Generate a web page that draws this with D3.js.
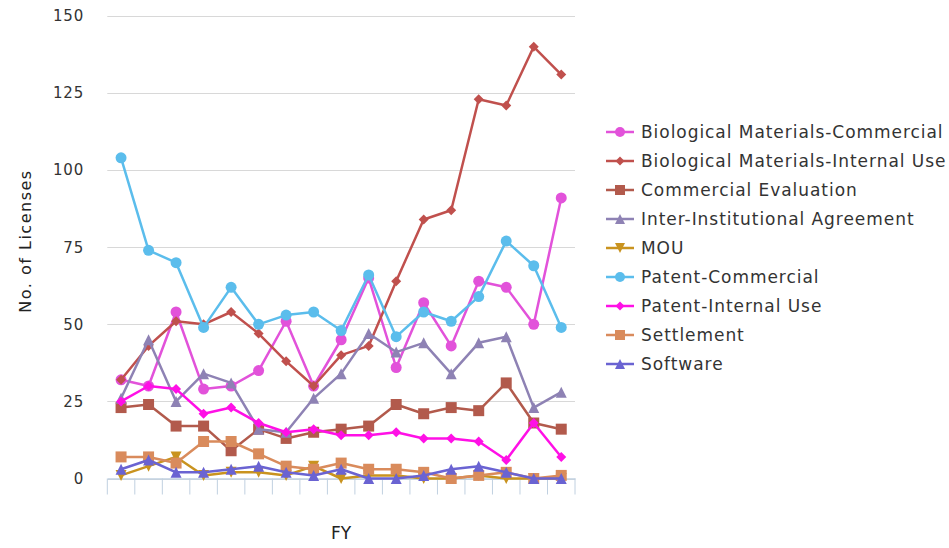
<!DOCTYPE html>
<html>
<head>
<meta charset="utf-8">
<script src="https://cdn.jsdelivr.net/npm/d3@7/dist/d3.min.js"></script>
<style>
  html, body { margin: 0; padding: 0; background: #fff; }
  svg { display: block; font-family: "DejaVu Sans", "Lucida Grande", sans-serif; }
</style>
</head>
<body>
<svg id="chart" width="949" height="548"></svg>
<script>
// ---------------- data ----------------
const categories = ["1","2","3","4","5","6","7","8","9","10","11","12","13","14","15","16","17"];
const yTicks = [0, 25, 50, 75, 100, 125, 150];

const seriesNames = [
  "Biological Materials-Commercial",
  "Biological Materials-Internal Use",
  "Commercial Evaluation",
  "Inter-Institutional Agreement",
  "MOU",
  "Patent-Commercial",
  "Patent-Internal Use",
  "Settlement",
  "Software"
];
const bioCommercial   = [32, 30, 54, 29, 30, 35, 51, 30, 45, 65, 36, 57, 43, 64, 62, 50, 91];
const bioInternal     = [32, 43, 51, 50, 54, 47, 38, 30, 40, 43, 64, 84, 87, 123, 121, 140, 131];
const commercialEval  = [23, 24, 17, 17, 9, 16, 13, 15, 16, 17, 24, 21, 23, 22, 31, 18, 16];
const interInst       = [26, 45, 25, 34, 31, 16, 15, 26, 34, 47, 41, 44, 34, 44, 46, 23, 28];
const mou             = [1, 4, 7, 1, 2, 2, 1, 4, 0, 1, 1, 0, 0, 1, 0, 0, 0];
const patentCommercial= [104, 74, 70, 49, 62, 50, 53, 54, 48, 66, 46, 54, 51, 59, 77, 69, 49];
const patentInternal  = [25, 30, 29, 21, 23, 18, 15, 16, 14, 14, 15, 13, 13, 12, 6, 18, 7];
const settlement      = [7, 7, 5, 12, 12, 8, 4, 3, 5, 3, 3, 2, 0, 1, 2, 0, 1];
const software        = [3, 6, 2, 2, 3, 4, 2, 1, 3, 0, 0, 1, 3, 4, 2, 0, 0];

const seriesValues = [bioCommercial, bioInternal, commercialEval, interInst, mou,
                      patentCommercial, patentInternal, settlement, software];
const seriesColors = ["#E252DA", "#C0504D", "#B25A4C", "#8E82B4", "#C9931F",
                      "#5BBDEC", "#FF10E6", "#D98B5C", "#6A63D2"];
const seriesSymbols = ["circle", "diamond", "square", "triangle", "triangle-down",
                       "circle", "diamond", "square", "triangle"];

// ---------------- layout ----------------
const svg = d3.select("#chart");
const plot = { left: 107.3, right: 575, top: 16, bottom: 478.5 };

const x = d3.scaleBand().domain(categories).range([plot.left, plot.right]).paddingInner(0).paddingOuter(0);
const y = d3.scaleLinear().domain([0, 150]).range([plot.bottom, plot.top]);

function symbolPath(type, r) {
  switch (type) {
    case "circle":
      return `M${-r},0A${r},${r} 0 1,0 ${r},0A${r},${r} 0 1,0 ${-r},0Z`;
    case "square":
      return `M${-r},${-r}H${r}V${r}H${-r}Z`;
    case "diamond":
      return `M0,${-r}L${r},0L0,${r}L${-r},0Z`;
    case "triangle":
      return `M0,${-r}L${r},${r}L${-r},${r}Z`;
    case "triangle-down":
      return `M${-r},${-r}L${r},${-r}L0,${r}Z`;
  }
}
const plotRadius = { circle: 5.5, square: 5.5, diamond: 5, triangle: 5.5, "triangle-down": 5.5 };

// gridlines
const grid = svg.append("g");
grid.selectAll("line").data(yTicks).join("line")
  .attr("x1", plot.left).attr("x2", plot.right)
  .attr("y1", d => Math.round(y(d)) + 0.5).attr("y2", d => Math.round(y(d)) + 0.5)
  .attr("stroke", "#D8D8D8").attr("stroke-width", 1);

// y axis labels
const yAxis = d3.axisLeft(y).tickValues(yTicks).tickSize(0).tickPadding(0);
const yg = svg.append("g").attr("transform", "translate(84,0)").call(yAxis);
yg.select(".domain").remove();
yg.selectAll("text").attr("font-size", 15).attr("fill", "#333").attr("dy", "0.32em")
  .attr("letter-spacing", "0.8px")
  .attr("font-family", "DejaVu Sans, sans-serif");

// x axis with ticks on band edges
const xAxis = d3.axisBottom(x).tickFormat(() => "").tickSize(0);
const xg = svg.append("g").attr("transform", `translate(0,${plot.bottom})`).call(xAxis);
xg.select(".domain").attr("stroke", "#C0D0E0").attr("stroke-width", 1.5);
xg.selectAll(".tick").remove();
const edges = categories.map(c => x(c)).concat([x(categories[categories.length - 1]) + x.bandwidth()]);
xg.selectAll("line.edge").data(edges).join("line").attr("class", "edge")
  .attr("x1", d => d).attr("x2", d => d).attr("y1", 0).attr("y2", 16)
  .attr("stroke", "#C0D0E0").attr("stroke-width", 1);

// axis titles
svg.append("text").attr("transform", "translate(31,241) rotate(-90)")
  .attr("text-anchor", "middle").attr("font-size", 16).attr("fill", "#222")
  .attr("letter-spacing", "1.5px")
  .text("No. of Licenses");
svg.append("text").attr("x", x(categories[8]) + x.bandwidth() / 2).attr("y", 539)
  .attr("text-anchor", "middle").attr("font-size", 17).attr("fill", "#222")
  .text("FY");

// series
const line = d3.line().x((d, i) => x(categories[i]) + x.bandwidth() / 2).y(d => y(d));
const seriesG = svg.append("g");
seriesValues.forEach((vals, si) => {
  const g = seriesG.append("g");
  g.append("path").datum(vals).attr("d", line)
    .attr("fill", "none").attr("stroke", seriesColors[si]).attr("stroke-width", 2.5)
    .attr("stroke-linejoin", "round").attr("stroke-linecap", "round");
  g.selectAll("path.m").data(vals).join("path").attr("class", "m")
    .attr("transform", (d, i) => `translate(${x(categories[i]) + x.bandwidth() / 2},${y(d)})`)
    .attr("d", symbolPath(seriesSymbols[si], plotRadius[seriesSymbols[si]]))
    .attr("fill", seriesColors[si]);
});

// legend
const legend = svg.append("g").attr("transform", "translate(606,132)");
const items = legend.selectAll("g").data(seriesNames).join("g")
  .attr("transform", (d, i) => `translate(0,${i * 29})`);
items.append("line").attr("x1", 0).attr("x2", 28).attr("y1", 0).attr("y2", 0)
  .attr("stroke", (d, i) => seriesColors[i]).attr("stroke-width", 2.5);
items.append("path").attr("transform", "translate(14,0)")
  .attr("d", (d, i) => symbolPath(seriesSymbols[i], seriesSymbols[i] === "diamond" ? 4.5 : 5))
  .attr("fill", (d, i) => seriesColors[i]);
items.append("text").attr("x", 35).attr("y", 0).attr("dy", "0.35em")
  .attr("font-size", 17).attr("letter-spacing", "0.95px").attr("fill", "#333").text(d => d);
</script>
</body>
</html>
